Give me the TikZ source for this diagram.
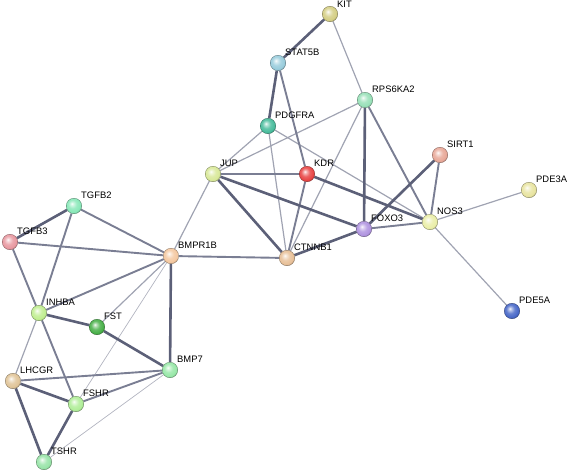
\documentclass[tikz,border=0pt]{standalone}
\usepackage{fontspec}
\setmainfont{Liberation Sans}
\pgfdeclareradialshading[sbc]{stringball}{\pgfpoint{-7bp}{8bp}}{color(0bp)=(sbc!5!white); color(5bp)=(sbc!40!white); color(14bp)=(sbc!85!white); color(24bp)=(sbc); color(30bp)=(sbc!70!black); color(50bp)=(sbc!60!black)}
\pgfdeclarelayer{edges}
\pgfsetlayers{edges,main}
\begin{document}
\begin{tikzpicture}[x=1pt,y=-1pt,
  prot/.style={circle,minimum size=15.5pt,inner sep=0pt,/utils/exec={\colorlet{sbc}{#1}},shade,shading=stringball,draw=#1!55!black,line width=0.35pt},
  lbl/.style={anchor=west,font=\fontsize{9.4}{10}\selectfont,inner sep=0pt},
  ethick/.style={draw={rgb,255:red,92;green,96;blue,120},line width=2.6pt},
  emed/.style={draw={rgb,255:red,122;green,126;blue,147},line width=1.9pt},
  elight/.style={draw={rgb,255:red,160;green,163;blue,178},line width=1.2pt},
  evlight/.style={draw={rgb,255:red,178;green,180;blue,192},line width=0.7pt}]
\useasboundingbox (0,0) rectangle (567,474);
\definecolor{cKIT}{HTML}{D4CE84}
\definecolor{cSTAT}{HTML}{98CCDC}
\definecolor{cRPS}{HTML}{98E0B8}
\definecolor{cPDG}{HTML}{48BC9C}
\definecolor{cJUP}{HTML}{D8E898}
\definecolor{cKDR}{HTML}{E84444}
\definecolor{cSIRT}{HTML}{E8A898}
\definecolor{cPDE3}{HTML}{E8E4A0}
\definecolor{cFOXO}{HTML}{B094E0}
\definecolor{cNOS}{HTML}{EAEEA8}
\definecolor{cCTN}{HTML}{E8C098}
\definecolor{cBMPR}{HTML}{F4C8A0}
\definecolor{cTGF2}{HTML}{88E8B8}
\definecolor{cTGF3}{HTML}{E898A0}
\definecolor{cINH}{HTML}{C0EE90}
\definecolor{cFST}{HTML}{48B048}
\definecolor{cBMP7}{HTML}{98E8A8}
\definecolor{cLHC}{HTML}{E0C498}
\definecolor{cFSH}{HTML}{B0EE98}
\definecolor{cTSH}{HTML}{98E4A8}
\definecolor{cPDE5}{HTML}{4868C8}
% node positions
\coordinate (pKIT) at (330,14);
\coordinate (pSTAT5B) at (278,63);
\coordinate (pRPS6KA2) at (365,100);
\coordinate (pPDGFRA) at (268,126);
\coordinate (pJUP) at (213,174);
\coordinate (pKDR) at (307,174);
\coordinate (pSIRT1) at (440,155);
\coordinate (pPDE3A) at (529,190);
\coordinate (pFOXO3) at (364,229);
\coordinate (pNOS3) at (430,222);
\coordinate (pCTNNB1) at (287,258);
\coordinate (pBMPR1B) at (171,256);
\coordinate (pTGFB2) at (74,206);
\coordinate (pTGFB3) at (10,242);
\coordinate (pINHBA) at (39,313);
\coordinate (pFST) at (97,327);
\coordinate (pBMP7) at (170,370);
\coordinate (pLHCGR) at (13,381);
\coordinate (pFSHR) at (76,404);
\coordinate (pTSHR) at (44,462);
\coordinate (pPDE5A) at (512,311);
% nodes
\foreach \n/\c in {KIT/cKIT,STAT5B/cSTAT,RPS6KA2/cRPS,PDGFRA/cPDG,JUP/cJUP,KDR/cKDR,SIRT1/cSIRT,PDE3A/cPDE3,FOXO3/cFOXO,NOS3/cNOS,CTNNB1/cCTN,BMPR1B/cBMPR,TGFB2/cTGF2,TGFB3/cTGF3,INHBA/cINH,FST/cFST,BMP7/cBMP7,LHCGR/cLHC,FSHR/cFSH,TSHR/cTSH,PDE5A/cPDE5}{
  \node[prot=\c] (\n) at (p\n) {};
}
% edges (behind nodes)
\begin{pgfonlayer}{edges}
\draw[elight] (KIT) -- (RPS6KA2);
\draw[elight] (PDGFRA) -- (JUP);
\draw[elight] (PDGFRA) -- (CTNNB1);
\draw[elight] (PDGFRA) -- (NOS3);
\draw[elight] (RPS6KA2) -- (JUP);
\draw[elight] (RPS6KA2) -- (CTNNB1);
\draw[elight] (JUP) -- (BMPR1B);
\draw[elight] (BMPR1B) -- (FST);
\draw[evlight] (BMPR1B) -- (FSHR);
\draw[evlight] (BMP7) -- (TSHR);
\draw[elight] (INHBA) -- (LHCGR);
\draw[elight] (NOS3) -- (PDE3A);
\draw[elight] (NOS3) -- (PDE5A);
\draw[emed] (TGFB2) -- (BMPR1B);
\draw[emed] (TGFB3) -- (BMPR1B);
\draw[emed] (TGFB2) -- (INHBA);
\draw[emed] (TGFB3) -- (INHBA);
\draw[emed] (INHBA) -- (BMPR1B);
\draw[emed] (BMP7) -- (LHCGR);
\draw[emed] (BMP7) -- (FSHR);
\draw[emed] (INHBA) -- (FSHR);
\draw[emed] (JUP) -- (KDR);
\draw[emed] (KDR) -- (CTNNB1);
\draw[emed] (BMPR1B) -- (CTNNB1);
\draw[emed] (FOXO3) -- (NOS3);
\draw[emed] (SIRT1) -- (NOS3);
\draw[emed] (RPS6KA2) -- (NOS3);
\draw[emed] (STAT5B) -- (KDR);
\draw[ethick] (KIT) -- (STAT5B);
\draw[ethick] (STAT5B) -- (PDGFRA);
\draw[ethick] (TGFB2) -- (TGFB3);
\draw[ethick] (INHBA) -- (FST);
\draw[ethick] (FST) -- (BMP7);
\draw[ethick] (BMPR1B) -- (BMP7);
\draw[ethick] (LHCGR) -- (FSHR);
\draw[ethick] (LHCGR) -- (TSHR);
\draw[ethick] (FSHR) -- (TSHR);
\draw[ethick] (FOXO3) -- (SIRT1);
\draw[ethick] (JUP) -- (FOXO3);
\draw[ethick] (JUP) -- (CTNNB1);
\draw[ethick] (KDR) -- (NOS3);
\draw[ethick] (RPS6KA2) -- (FOXO3);
\draw[ethick] (FOXO3) -- (CTNNB1);
\end{pgfonlayer}
% labels
\foreach \n in {STAT5B,RPS6KA2,PDGFRA,JUP,KDR,SIRT1,PDE3A,FOXO3,NOS3,CTNNB1,BMPR1B,TGFB2,TGFB3,INHBA,FST,BMP7,LHCGR,FSHR,TSHR,PDE5A}{
  \node[lbl] (l\n) at ([shift={(7,-11)}]p\n) {\n};
}
\node[lbl] (lKIT) at ([shift={(7,-9.5)}]pKIT) {KIT};
\end{tikzpicture}
\end{document}
